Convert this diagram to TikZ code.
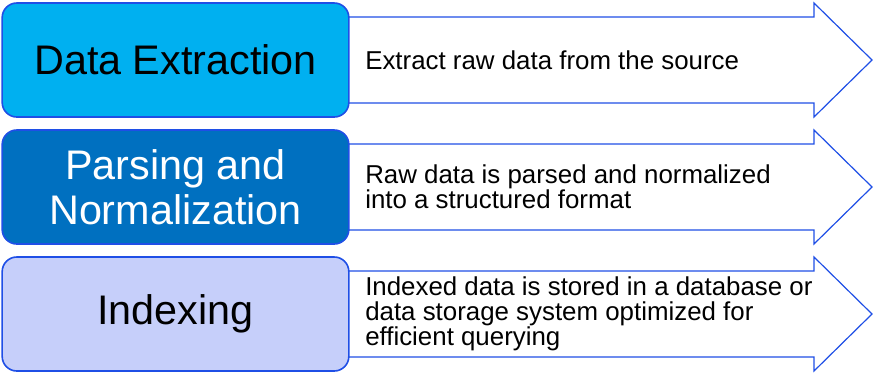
\documentclass[tikz,border=0pt]{standalone}
\usepackage{fontspec}
\setmainfont{Liberation Sans}
\usetikzlibrary{positioning}
\definecolor{edge}{HTML}{1F4FE6}
\definecolor{extract}{HTML}{00B0F0}
\definecolor{parse}{HTML}{0070C0}
\definecolor{index}{HTML}{C6CFFA}
\tikzset{
  stagebox/.style={draw=edge, line width=1.2pt, rounded corners=11pt,
                   minimum width=260pt, minimum height=85.5pt, inner sep=0pt,
                   align=center, font=\fontsize{31}{34}\selectfont},
  flowarrow/.style={draw=edge, fill=white, line width=0.9pt, line join=miter},
  desc/.style={anchor=west, align=left, inner sep=0pt,
               font=\fontsize{19.4}{18.9}\selectfont}
}

\begin{document}
\begin{tikzpicture}[x=0.75pt,y=0.75pt]
  \useasboundingbox (0,0) rectangle (874,-376);
  \foreach \i/\top/\col/\ink/\stage/\info in {
     1/3/extract/black/Data Extraction/Extract raw data from the source,
     2/130/parse/white/Parsing and\\Normalization/Raw data is parsed and normalized\\into a structured format,
     3/257/index/black/Indexing/Indexed data is stored in a database or\\data storage system optimized for\\efficient querying} {
    % arrow behind the stage box
    \draw[flowarrow] (340,{-\top-14}) -- (814,{-\top-14}) -- (814,-\top)
      -- (872,{-\top-57}) -- (814,{-\top-114}) -- (814,{-\top-100})
      -- (340,{-\top-100}) -- cycle;
    \node[stagebox, fill=\col, text=\ink] (stage\i) at (175.5,{-\top-57}) {\stage};
    \node[desc] (info\i) at (365,{-\top-57}) {\info};
  }
\end{tikzpicture}
\end{document}
